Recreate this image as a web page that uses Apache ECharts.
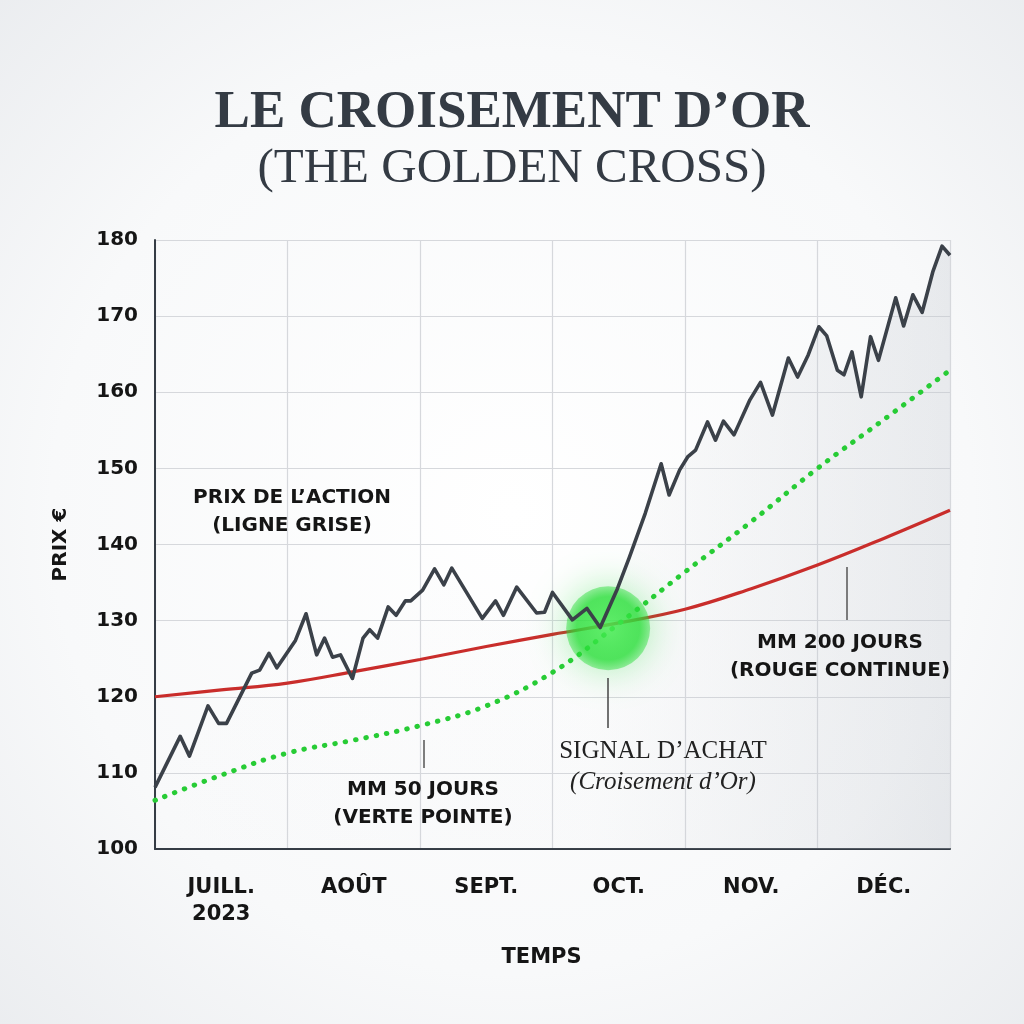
<!DOCTYPE html>
<html><head><meta charset="utf-8">
<script src="https://cdn.jsdelivr.net/npm/echarts@6/dist/echarts.min.js"></script>
<style>html,body{margin:0;padding:0;}#c{width:1024px;height:1024px;}</style>
</head><body><div id="c"></div>
<script>
const months = ['JUILL.\n2023','AOÛT','SEPT.','OCT.','NOV.','DÉC.'];
const yTicks = [100,110,120,130,140,150,160,170,180];
const priceT = [0,0.19,0.26,0.40,0.48,0.54,0.73,0.79,0.86,0.92,1.06,1.14,1.22,1.28,1.34,1.40,1.49,1.57,1.62,1.68,1.76,1.82,1.89,1.93,2.02,2.11,2.18,2.24,2.47,2.57,2.63,2.73,2.88,2.94,3.00,3.15,3.26,3.36,3.49,3.58,3.70,3.82,3.88,3.96,4.02,4.08,4.17,4.23,4.29,4.37,4.49,4.57,4.66,4.78,4.85,4.93,5.01,5.07,5.15,5.20,5.26,5.33,5.40,5.46,5.59,5.65,5.72,5.79,5.87,5.94,6.0];
const priceV = [108.1,114.8,112.2,118.8,116.5,116.5,123.1,123.5,125.7,123.8,127.4,130.9,125.5,127.7,125.2,125.5,122.4,127.7,128.8,127.7,131.8,130.7,132.6,132.6,134.0,136.8,134.7,136.9,130.3,132.6,130.7,134.4,131.0,131.1,133.7,130.1,131.6,129.1,134.2,138.3,144.1,150.6,146.5,149.8,151.5,152.4,156.1,153.7,156.2,154.4,159.0,161.3,157.0,164.5,162.0,164.9,168.6,167.4,162.9,162.3,165.3,159.4,167.3,164.2,172.4,168.7,172.8,170.5,175.8,179.2,178.0];
const ma50T = [0,0.5,1,1.5,2,2.5,3,3.5,4,4.5,5,5.5,6];
const ma50V = [106.4,109.7,112.6,114.3,116.2,118.8,123.2,129.6,136.4,143.0,150.0,156.4,162.9];
const ma200T = [0,0.5,1,1.5,2,2.5,3,3.5,4,4.5,5,5.5,6];
const ma200V = [120.0,120.9,121.8,123.3,124.9,126.6,128.2,129.7,131.5,134.2,137.3,140.8,144.5];
const signalPt = [3.42,129.0];

const zip = (a,b)=>a.map((v,i)=>[v,b[i]]);
const chart = echarts.init(document.getElementById('c'));
const sans = '"DejaVu Sans", Verdana, sans-serif';
const serif = '"Liberation Serif", "DejaVu Serif", serif';
chart.setOption({
  backgroundColor: {type:'radial',x:0.5,y:0.5,r:0.75,colorStops:[{offset:0,color:'#ffffff'},{offset:0.6,color:'#f8f9fa'},{offset:1,color:'#e9ebee'}]},
  animation:false,
  title:[
    {text:'LE CROISEMENT D’OR',left:'center',top:82,textStyle:{fontFamily:serif,fontWeight:'bold',fontSize:53,color:'#343b44'}},
    {text:'(THE GOLDEN CROSS)',left:'center',top:140,textStyle:{fontFamily:serif,fontWeight:'normal',fontSize:49,color:'#343b44'}}
  ],
  grid:{left:155,right:74,top:240,bottom:175},
  xAxis:[
    {type:'category',data:months,boundaryGap:true,position:'bottom',
     axisLine:{show:true,lineStyle:{color:'#353c45',width:2}},axisTick:{show:false},splitLine:{show:false},
     axisLabel:{margin:25,fontFamily:sans,fontWeight:'bold',fontSize:21,color:'#151515',lineHeight:27},
     name:'TEMPS',nameLocation:'middle',nameGap:98,nameTextStyle:{fontFamily:sans,fontWeight:'bold',fontSize:21,color:'#151515',padding:[0,22,0,0]}},
    {type:'value',min:0,max:6,interval:1,show:true,axisLine:{show:false},axisTick:{show:false},axisLabel:{show:false},
     splitLine:{show:true,lineStyle:{color:'#d6d8dc',width:1.2}}}
  ],
  yAxis:{type:'value',min:100,max:180,interval:10,
    axisLine:{show:true,lineStyle:{color:'#353c45',width:2}},axisTick:{show:false},
    splitLine:{lineStyle:{color:'#d6d8dc',width:1.2}},
    axisLabel:{margin:17,fontFamily:sans,fontWeight:'bold',fontSize:20,color:'#151515'},
    name:'PRIX €',nameLocation:'middle',nameGap:84,nameRotate:90,nameTextStyle:{fontFamily:sans,fontWeight:'bold',fontSize:20,color:'#151515'}},
  series:[
    {type:'line',xAxisIndex:1,data:zip(priceT,priceV),symbol:'none',z:1,silent:true,
     lineStyle:{width:0},
     areaStyle:{origin:'start',color:{type:'linear',x:0,y:0,x2:1,y2:0,colorStops:[{offset:0,color:'rgba(200,204,210,0)'},{offset:0.55,color:'rgba(200,204,210,0.05)'},{offset:1,color:'rgba(190,195,203,0.4)'}]}}},
    {type:'line',xAxisIndex:1,data:zip(ma200T,ma200V),smooth:0.4,symbol:'none',z:2,
     lineStyle:{color:'#c92d2b',width:3.2}},
    {type:'line',xAxisIndex:1,data:zip(ma50T,ma50V),smooth:0.4,symbol:'none',z:2,
     lineStyle:{color:'#27cc35',width:5,type:[0.5,10],cap:'round'}},
    {type:'scatter',xAxisIndex:1,data:[signalPt],symbol:'circle',symbolSize:84,z:3,silent:true,
     itemStyle:{color:{type:'radial',x:0.5,y:0.5,r:0.5,colorStops:[{offset:0,color:'rgba(80,240,90,0.85)'},{offset:0.75,color:'rgba(40,222,55,0.88)'},{offset:1,color:'rgba(40,220,55,0.55)'}]},
       shadowBlur:38,shadowColor:'rgba(40,220,60,0.85)'}},
    {type:'line',xAxisIndex:1,data:zip(priceT,priceV),symbol:'none',z:4,
     lineStyle:{color:'#3b4149',width:3.6,join:'round'}}
  ],
  graphic:{elements:[
    {type:'text',z:100,x:292,y:484,style:{text:'PRIX DE L\u2019ACTION\n(LIGNE GRISE)',align:'center',fontFamily:sans,fontWeight:'bold',fontSize:20,lineHeight:28,fill:'#151515'}},
    {type:'text',z:100,x:423,y:776,style:{text:'MM 50 JOURS\n(VERTE POINTE)',align:'center',fontFamily:sans,fontWeight:'bold',fontSize:20,lineHeight:28,fill:'#151515'}},
    {type:'line',z:100,shape:{x1:424,y1:740,x2:424,y2:768},style:{stroke:'#555',lineWidth:1.5}},
    {type:'text',z:100,x:840,y:629,style:{text:'MM 200 JOURS\n(ROUGE CONTINUE)',align:'center',fontFamily:sans,fontWeight:'bold',fontSize:20,lineHeight:28,fill:'#151515'}},
    {type:'line',z:100,shape:{x1:847,y1:567,x2:847,y2:620},style:{stroke:'#555',lineWidth:1.5}},
    {type:'line',z:100,shape:{x1:608,y1:678,x2:608,y2:728},style:{stroke:'#444',lineWidth:1.5}},
    {type:'text',z:100,x:663,y:739,style:{text:'SIGNAL D\u2019ACHAT',align:'center',fontFamily:serif,fontSize:25,fill:'#222'}},
    {type:'text',z:100,x:663,y:770,style:{text:'(Croisement d\u2019Or)',align:'center',fontFamily:serif,fontStyle:'italic',fontSize:25,fill:'#222'}}
  ]}
});
</script></body></html>
